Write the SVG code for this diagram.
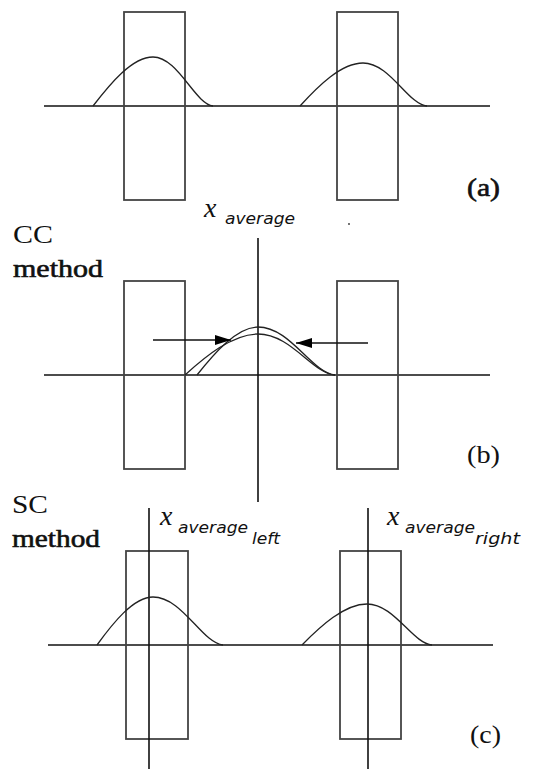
<svg xmlns="http://www.w3.org/2000/svg" width="539" height="769" viewBox="0 0 539 769">
<style>
.box{fill:none;stroke:#444;stroke-width:1.8}
.ax{fill:none;stroke:#111;stroke-width:1.6}
.cv{fill:none;stroke:#222;stroke-width:1.3}
.lbl{font-family:"Liberation Serif",serif;font-size:25px;fill:#111}
.bd{stroke:#111;stroke-width:0.6}
.mx{font-family:"Liberation Serif",serif;font-style:italic;font-size:28px;fill:#111}
.sub{font-family:"DejaVu Sans",sans-serif;font-style:italic;font-size:15px;fill:#111}
</style>
<defs>
<marker id="ah" viewBox="0 0 16 10" refX="16" refY="5" markerWidth="16" markerHeight="10" markerUnits="userSpaceOnUse" orient="auto">
<path d="M0,0 L16,5 L0,10 Z" fill="#000"/>
</marker>
</defs>
<rect width="539" height="769" fill="#fff"/>
<g id="panel-a">
<line class="ax" x1="44" y1="106" x2="490" y2="106"/>
<rect class="box" x="124" y="12" width="61" height="188"/>
<rect class="box" x="337" y="12" width="61" height="188"/>
<path class="cv" d="M93,106 C110,84 132,57 153,57 C178,57 195,104 213,106"/>
<path class="cv" d="M300,106 C317.6,86.6 341,63 363,63 C389.9,63 407.8,104.3 427,106"/>
<text class="lbl bd" x="467" y="196" textLength="33" lengthAdjust="spacingAndGlyphs">(a)</text>
</g>
<g id="panel-b">
<text class="lbl" x="13" y="243" textLength="40" lengthAdjust="spacingAndGlyphs">CC</text>
<text class="lbl bd" x="13" y="277" textLength="90" lengthAdjust="spacingAndGlyphs">method</text>
<text class="mx" x="204" y="217">x</text>
<text class="sub" x="225" y="224" textLength="70" lengthAdjust="spacingAndGlyphs">average</text>
<circle cx="349" cy="224" r="0.9" fill="#333"/>
<line class="ax" x1="44" y1="375" x2="490" y2="375"/>
<line class="ax" x1="258" y1="238" x2="258" y2="502"/>
<rect class="box" x="124" y="281" width="61" height="188"/>
<rect class="box" x="337" y="281" width="61" height="188"/>
<path class="cv" d="M197,375 C214,353.4 236.7,327 258,327 C290.3,327 311.9,373 335,375"/>
<path class="cv" d="M185,375 C205.4,356.5 232.5,334 258,334 C290.8,334 312.6,373.4 335,375"/>
<text class="lbl" x="467" y="463" textLength="33" lengthAdjust="spacingAndGlyphs">(b)</text>
</g>
<g id="panel-c">
<text class="lbl" x="12" y="513" textLength="36" lengthAdjust="spacingAndGlyphs">SC</text>
<text class="lbl bd" x="12" y="547" textLength="88" lengthAdjust="spacingAndGlyphs">method</text>
<text class="mx" x="160" y="525">x</text>
<text class="sub" x="178" y="533" textLength="70" lengthAdjust="spacingAndGlyphs">average</text>
<text class="sub" x="252" y="544" textLength="28" lengthAdjust="spacingAndGlyphs">left</text>
<text class="mx" x="387" y="525">x</text>
<text class="sub" x="405" y="533" textLength="70" lengthAdjust="spacingAndGlyphs">average</text>
<text class="sub" x="475" y="544" textLength="45" lengthAdjust="spacingAndGlyphs">right</text>
<line class="ax" x1="48" y1="645" x2="493" y2="645"/>
<rect class="box" x="126" y="551" width="62" height="188"/>
<rect class="box" x="340" y="551" width="61" height="188"/>
<line class="ax" x1="149" y1="508" x2="149" y2="769"/>
<line class="ax" x1="368" y1="508" x2="368" y2="769"/>
<path class="cv" d="M97,645 C112.7,623.4 133.4,597 153,597 C182.4,597 202,643 223,645"/>
<path class="cv" d="M302,645 C320.2,626.5 344.3,604 367,604 C394.3,604 412.5,643.4 432,645"/>
<text class="lbl" x="470" y="743" textLength="31" lengthAdjust="spacingAndGlyphs">(c)</text>
</g>
<g id="connectors">
<line class="ax" x1="153" y1="340" x2="231" y2="340" marker-end="url(#ah)"/>
<line class="ax" x1="368" y1="343" x2="296" y2="343" marker-end="url(#ah)"/>
</g>
</svg>
